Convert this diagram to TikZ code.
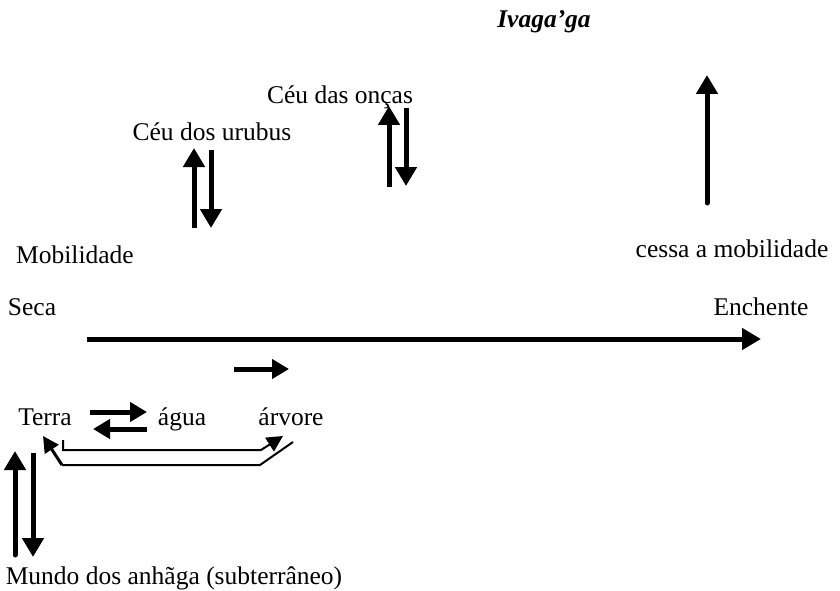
\documentclass[tikz,border=0pt]{standalone}
\usepackage{fontspec}
\setmainfont{Liberation Serif}
\usetikzlibrary{arrows.meta}
\begin{document}
\begin{tikzpicture}[x=1pt,y=-1pt,
  lbl/.style={inner sep=0pt,anchor=base,font=\fontsize{25.5}{30}\selectfont},
  bigarrow/.style={line width=5pt,-{Triangle[length=19pt,width=21pt]}},
  midarrow/.style={line width=5pt,-{Triangle[length=17pt,width=19pt]}},
  thinline/.style={line width=2pt},
  thinarrow/.style={line width=2pt,-{Triangle[length=16pt,width=16pt]}}]
\useasboundingbox (0,0) rectangle (840,591);
% labels
\node[lbl,font=\fontsize{25.5}{30}\selectfont\bfseries\itshape] (iva) at (544,28) {Ivaga’ga};
\node[lbl] (oncas) at (340,104) {Céu das onças};
\node[lbl] (urubus) at (212,140) {Céu dos urubus};
\node[lbl] (mob) at (75,263) {Mobilidade};
\node[lbl] (cessa) at (732,257) {cessa a mobilidade};
\node[lbl] (seca) at (32,315) {Seca};
\node[lbl] (ench) at (761,315) {Enchente};
\node[lbl] (terra) at (45,425) {Terra};
\node[lbl] (agua) at (182,425) {água};
\node[lbl] (arvore) at (291,425) {árvore};
\node[lbl] (mundo) at (174,584) {Mundo dos anhãga (subterrâneo)};
% arrow end points
\coordinate (u1a) at (194,228); \coordinate (u1b) at (194,148);
\coordinate (u2a) at (211,150); \coordinate (u2b) at (211,228);
\coordinate (o1a) at (389,187); \coordinate (o1b) at (389,106);
\coordinate (o2a) at (406,108); \coordinate (o2b) at (406,186);
\coordinate (ra) at (707,203); \coordinate (rb) at (707,75);
\coordinate (ha) at (87,339); \coordinate (hb) at (761,339);
\coordinate (sa) at (234,369); \coordinate (sb) at (289,369);
\coordinate (ta) at (90,412); \coordinate (tb) at (147,412);
\coordinate (wa) at (147,429); \coordinate (wb) at (93,429);
\coordinate (la) at (15,555); \coordinate (lb) at (15,451);
\coordinate (ma) at (33,453); \coordinate (mb) at (33,557);
% sky and time arrows
\draw[bigarrow] (u1a) -- (u1b);
\draw[bigarrow] (u2a) -- (u2b);
\draw[bigarrow] (o1a) -- (o1b);
\draw[bigarrow] (o2a) -- (o2b);
\draw[bigarrow,line cap=round] (ra) -- (rb);
\draw[bigarrow] (ha) -- (hb);
\draw[midarrow] (sa) -- (sb);
\draw[midarrow] (ta) -- (tb);
\draw[midarrow] (wa) -- (wb);
\draw[bigarrow,line cap=round] (la) -- (lb);
\draw[bigarrow] (ma) -- (mb);
% Terra - árvore loop
\draw[thinarrow] (63,440) -- (63,450) -- (261,450) -- (283,436);
\draw[thinline] (293,442) -- (260,465) -- (62,465);
\draw[line width=3pt,-{Triangle[length=16pt,width=16pt]}] (62,465) -- (43,436);
\end{tikzpicture}
\end{document}
